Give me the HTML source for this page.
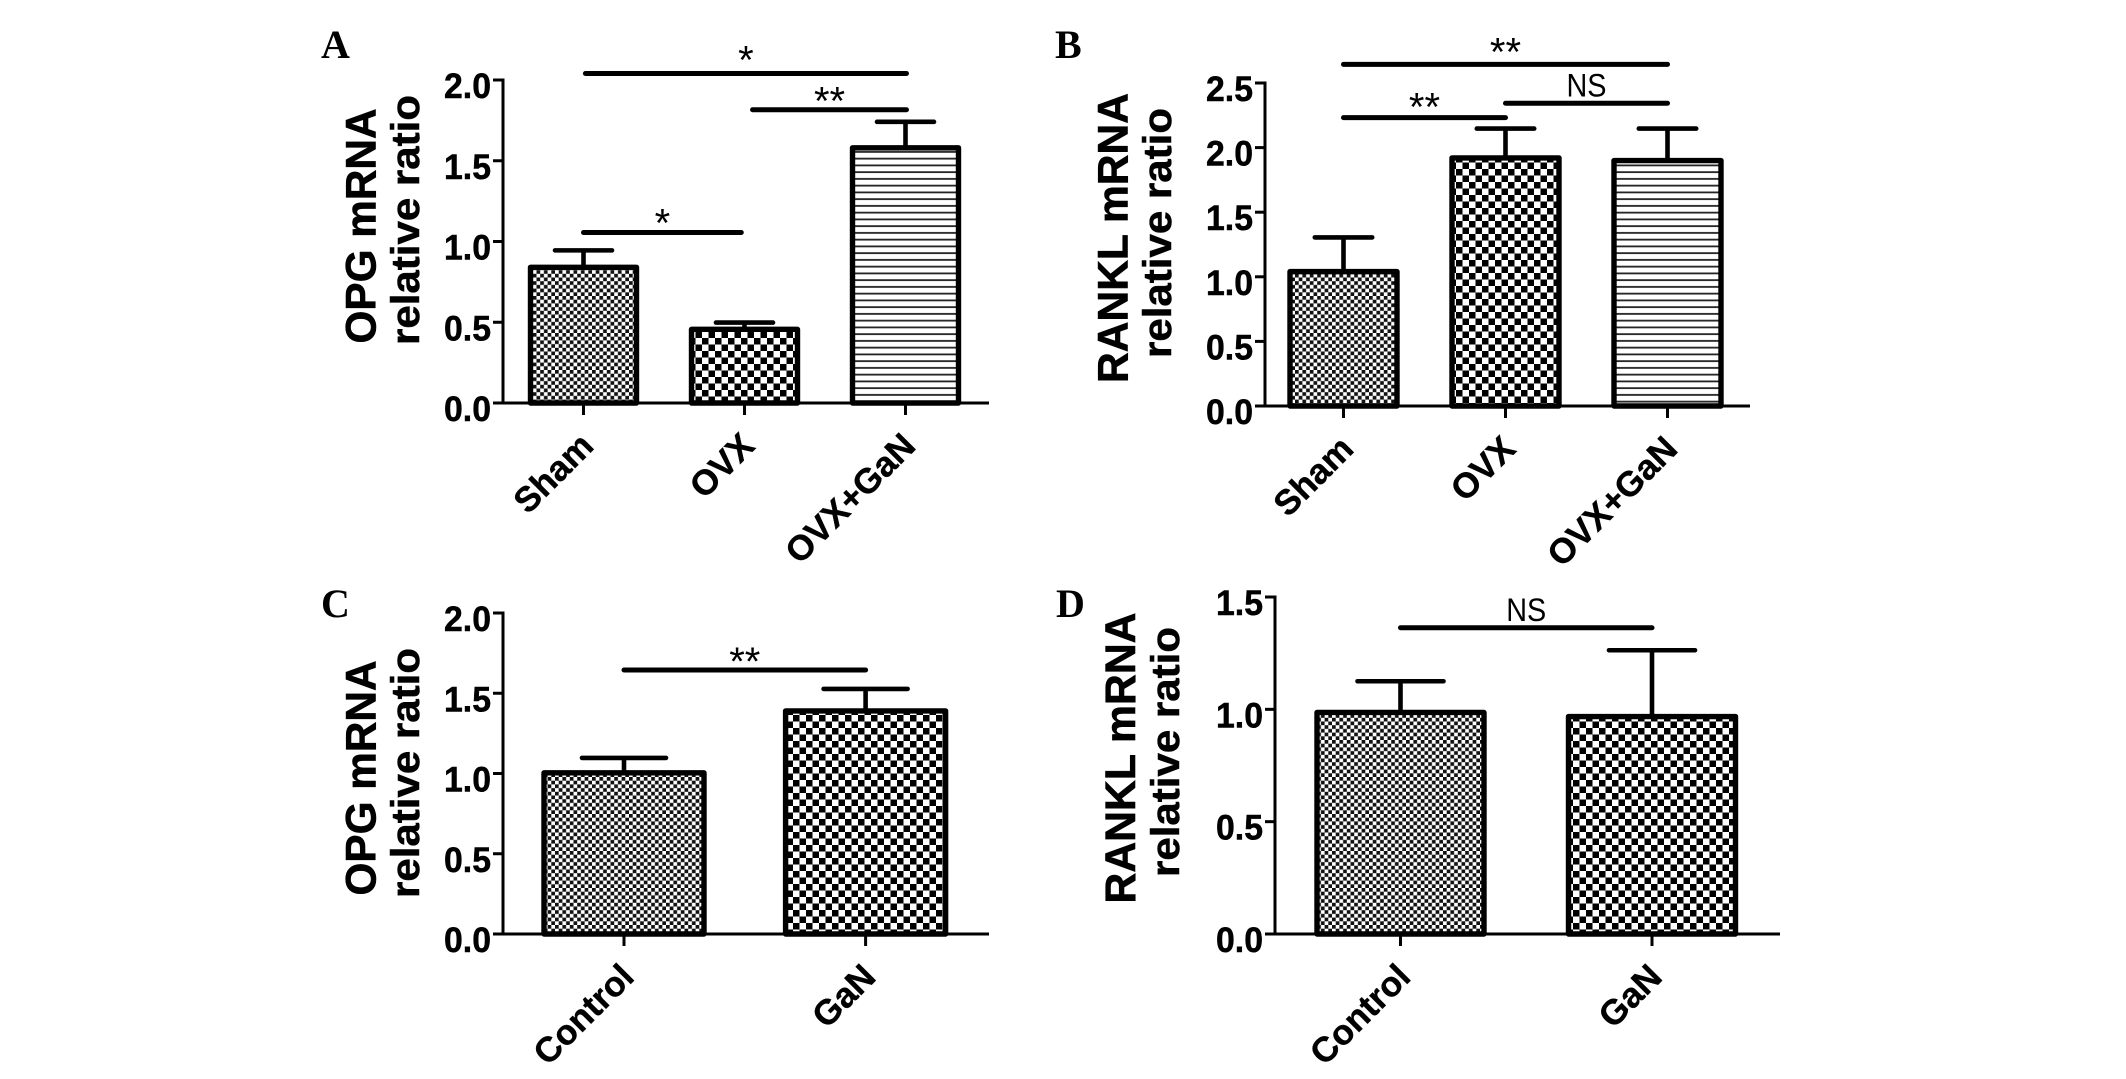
<!DOCTYPE html>
<html lang="en">
<head>
<meta charset="utf-8">
<title>OPG and RANKL mRNA relative ratio bar charts</title>
<style>
html,body{margin:0;padding:0;background:#fff;}
svg{display:block;}
text{font-family:"Liberation Sans",sans-serif;fill:#000;}
</style>
</head>
<body>
<svg id="figure" xmlns="http://www.w3.org/2000/svg" width="2126" height="1079" viewBox="0 0 2126 1079">
<defs>
<pattern id="fill-fine" patternUnits="userSpaceOnUse" width="7.4" height="7.4">
<rect width="7.4" height="7.4" fill="#fff"/><rect width="3.7" height="3.7" fill="#111"/><rect x="3.7" y="3.7" width="3.7" height="3.7" fill="#111"/>
</pattern>
<pattern id="fill-medium" patternUnits="userSpaceOnUse" width="13" height="13">
<rect width="13" height="13" fill="#fff"/><rect width="6.5" height="6.5" fill="#000"/><rect x="6.5" y="6.5" width="6.5" height="6.5" fill="#000"/>
</pattern>
<pattern id="fill-lines" patternUnits="userSpaceOnUse" width="10" height="6.75">
<rect width="10" height="6.75" fill="#fff"/><rect y="2.5" width="10" height="1.8" fill="#222"/>
</pattern>
</defs>
</svg>
<script>
const panelA_categories = ['Sham', 'OVX', 'OVX+GaN'];
const panelA_values = [0.84, 0.456, 1.58];
const panelA_errorTops = [0.945, 0.498, 1.741];
const panelA_fills = ['fill-fine', 'fill-medium', 'fill-lines'];
const panelA_ticks = [0, 0.5, 1, 1.5, 2];
const panelA_tickLabels = ['0.0', '0.5', '1.0', '1.5', '2.0'];
const panelA_bracketFrom = [0.012, 1.05, 0];
const panelA_bracketTo = [2.006, 2.006, 0.98];
const panelA_bracketLevel = [2.04, 1.816, 1.056];
const panelA_bracketText = ['*', '**', '*'];

const panelB_categories = ['Sham', 'OVX', 'OVX+GaN'];
const panelB_values = [1.04, 1.92, 1.9];
const panelB_errorTops = [1.305, 2.147, 2.147];
const panelB_fills = ['fill-fine', 'fill-medium', 'fill-lines'];
const panelB_ticks = [0, 0.5, 1, 1.5, 2, 2.5];
const panelB_tickLabels = ['0.0', '0.5', '1.0', '1.5', '2.0', '2.5'];
const panelB_bracketFrom = [0, 0, 1];
const panelB_bracketTo = [2, 1, 2];
const panelB_bracketLevel = [2.644, 2.232, 2.343];
const panelB_bracketText = ['**', '**', 'NS'];

const panelC_categories = ['Control', 'GaN'];
const panelC_values = [1.004, 1.39];
const panelC_errorTops = [1.097, 1.527];
const panelC_fills = ['fill-fine', 'fill-medium'];
const panelC_ticks = [0, 0.5, 1, 1.5, 2];
const panelC_tickLabels = ['0.0', '0.5', '1.0', '1.5', '2.0'];
const panelC_bracketFrom = [0];
const panelC_bracketTo = [1];
const panelC_bracketLevel = [1.645];
const panelC_bracketText = ['**'];

const panelD_categories = ['Control', 'GaN'];
const panelD_values = [0.986, 0.968];
const panelD_errorTops = [1.125, 1.263];
const panelD_fills = ['fill-fine', 'fill-medium'];
const panelD_ticks = [0, 0.5, 1, 1.5];
const panelD_tickLabels = ['0.0', '0.5', '1.0', '1.5'];
const panelD_bracketFrom = [0];
const panelD_bracketTo = [1];
const panelD_bracketLevel = [1.363];
const panelD_bracketText = ['NS'];

const panels = [
  {id:'a', letter:'A', letterX:321, letterY:58, title:'OPG mRNA', titleX:375.5, titleY:226, titleLen:235, subX:419, subY:220, subLen:250,
   axisX:503, axisEnd:989, top:80, base:403, max:2, first:583.5, step:161, barW:106, cap:28.5, markLift:[8, 3, 4],
   categories:panelA_categories, values:panelA_values, errorTops:panelA_errorTops, fills:panelA_fills, ticks:panelA_ticks, tickLabels:panelA_tickLabels,
   from:panelA_bracketFrom, to:panelA_bracketTo, level:panelA_bracketLevel, marks:panelA_bracketText},
  {id:'b', letter:'B', letterX:1055, letterY:58, title:'RANKL mRNA', titleX:1127.5, titleY:238, titleLen:290, subX:1171, subY:233, subLen:250,
   axisX:1265, axisEnd:1750, top:83, base:406, max:2.5, first:1343.5, step:162, barW:107, cap:28.7, markLift:[7, 5, 0],
   categories:panelB_categories, values:panelB_values, errorTops:panelB_errorTops, fills:panelB_fills, ticks:panelB_ticks, tickLabels:panelB_tickLabels,
   from:panelB_bracketFrom, to:panelB_bracketTo, level:panelB_bracketLevel, marks:panelB_bracketText},
  {id:'c', letter:'C', letterX:321, letterY:617, title:'OPG mRNA', titleX:375.5, titleY:778, titleLen:235, subX:419, subY:773, subLen:250,
   axisX:503, axisEnd:989, top:613, base:934, max:2, first:624, step:241.6, barW:160, cap:42, markLift:[3],
   categories:panelC_categories, values:panelC_values, errorTops:panelC_errorTops, fills:panelC_fills, ticks:panelC_ticks, tickLabels:panelC_tickLabels,
   from:panelC_bracketFrom, to:panelC_bracketTo, level:panelC_bracketLevel, marks:panelC_bracketText},
  {id:'d', letter:'D', letterX:1056, letterY:617, title:'RANKL mRNA', titleX:1135, titleY:758, titleLen:291, subX:1179, subY:752, subLen:250,
   axisX:1275, axisEnd:1780, top:597, base:934, max:1.5, first:1400.5, step:251.5, barW:167, cap:43, markLift:[0],
   categories:panelD_categories, values:panelD_values, errorTops:panelD_errorTops, fills:panelD_fills, ticks:panelD_ticks, tickLabels:panelD_tickLabels,
   from:panelD_bracketFrom, to:panelD_bracketTo, level:panelD_bracketLevel, marks:panelD_bracketText}
];

const svgNS = 'http://www.w3.org/2000/svg';
const root = document.getElementById('figure');

function make(tag, attrs, parent, content) {
  const el = document.createElementNS(svgNS, tag);
  for (const k in attrs) el.setAttribute(k, attrs[k]);
  if (content !== undefined) el.textContent = content;
  parent.appendChild(el);
  return el;
}

function slug(s) {
  return s.toLowerCase().replace(/[^a-z0-9]+/g, '-');
}

panels.forEach(function (p) {
  const xScale = function (i) { return p.first + i * p.step; };
  const yScale = function (v) { return p.base - (v / p.max) * (p.base - p.top); };

  const g = make('g', {}, root);
  
  

  const letter = make('text', {x:p.letterX, y:p.letterY, 'font-size':40, 'font-weight':'bold', style:'font-family:"Liberation Serif",serif'}, g, p.letter);
  
  

  const title = make('text', {transform:'translate(' + p.titleX + ',' + p.titleY + ') rotate(-90)', 'text-anchor':'middle', 'font-size':43, 'font-weight':'bold', stroke:'#000', 'stroke-width':0.6, textLength:p.titleLen, lengthAdjust:'spacingAndGlyphs'}, g, p.title);
  
  

  const sub = make('text', {transform:'translate(' + p.subX + ',' + p.subY + ') rotate(-90)', 'text-anchor':'middle', 'font-size':40, 'font-weight':'bold', stroke:'#000', 'stroke-width':0.5, textLength:p.subLen, lengthAdjust:'spacingAndGlyphs'}, g, 'relative ratio');
  
  

  p.categories.forEach(function (cat, i) {
    const cx = xScale(i);
    const bar = make('rect', {x:cx - p.barW / 2, y:yScale(p.values[i]), width:p.barW, height:p.base - yScale(p.values[i]), fill:'url(#' + p.fills[i] + ')', stroke:'#000', 'stroke-width':5.4, 'stroke-linejoin':'round'}, g);
    
    

    const stem = make('line', {x1:cx, x2:cx, y1:yScale(p.values[i]), y2:yScale(p.errorTops[i]), stroke:'#000', 'stroke-width':4.6}, g);
    
    

    const cap = make('line', {x1:cx - p.cap, x2:cx + p.cap, y1:yScale(p.errorTops[i]), y2:yScale(p.errorTops[i]), stroke:'#000', 'stroke-width':4.6, 'stroke-linecap':'round'}, g);
    
    

    const tick = make('line', {x1:cx, x2:cx, y1:p.base, y2:p.base + 12, stroke:'#000', 'stroke-width':3}, g);
    
    

    const label = make('text', {transform:'translate(' + (cx + 3) + ',' + (p.base + 36) + ') rotate(-45)', 'text-anchor':'end', dy:'0.36em', 'font-size':35, 'font-weight':'bold', stroke:'#000', 'stroke-width':0.4}, g, cat);
    
    
  });

  const yAxis = make('line', {x1:p.axisX, x2:p.axisX, y1:yScale(p.max) - 1.5, y2:p.base, stroke:'#000', 'stroke-width':3}, g);
  
  

  const xAxis = make('line', {x1:p.axisX - 10, x2:p.axisEnd, y1:p.base, y2:p.base, stroke:'#000', 'stroke-width':3}, g);
  
  

  p.ticks.forEach(function (t, i) {
    const tick = make('line', {x1:p.axisX - 10, x2:p.axisX, y1:yScale(t), y2:yScale(t), stroke:'#000', 'stroke-width':3}, g);
    
    

    const label = make('text', {x:p.axisX - 12, y:yScale(t) + 18, 'text-anchor':'end', 'font-size':35.5, 'font-weight':'bold', stroke:'#000', 'stroke-width':0.5, textLength:47, lengthAdjust:'spacingAndGlyphs'}, g, p.tickLabels[i]);
    
    
  });

  p.level.forEach(function (lvl, i) {
    const y = yScale(lvl);
    const x1 = xScale(p.from[i]);
    const x2 = xScale(p.to[i]);
    const line = make('line', {x1:x1, x2:x2, y1:y, y2:y, stroke:'#000', 'stroke-width':5, 'stroke-linecap':'round'}, g);
    
    

    const isNS = p.marks[i] === 'NS';
    const markAttrs = {x:(x1 + x2) / 2, y:(isNS ? y - 7 : y + 8) - p.markLift[i], 'text-anchor':'middle', 'font-size':isNS ? 32 : 40};
    if (isNS) {
      markAttrs.textLength = 40;
      markAttrs.lengthAdjust = 'spacingAndGlyphs';
    }
    const mark = make('text', markAttrs, g, p.marks[i]);
    
    
  });
});
</script>
</body>
</html>
